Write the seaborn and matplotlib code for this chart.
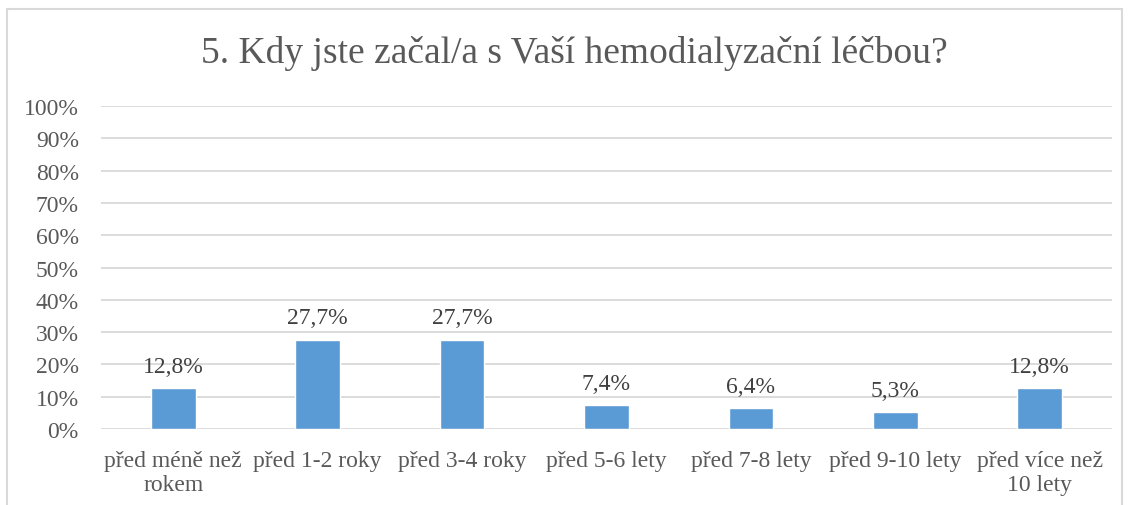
import matplotlib
matplotlib.use("Agg")
import matplotlib.pyplot as plt
import seaborn as sns
import pandas as pd
from matplotlib.patches import Rectangle

categories = ["před méně než\nrokem", "před 1-2 roky", "před 3-4 roky", "před 5-6 lety",
              "před 7-8 lety", "před 9-10 lety", "před více než\n10 lety"]
values = [12.8, 27.7, 27.7, 7.4, 6.4, 5.3, 12.8]
yticks = [0, 10, 20, 30, 40, 50, 60, 70, 80, 90, 100]
title = "5. Kdy jste začal/a s Vaší hemodialyzační léčbou?"

df = pd.DataFrame({"cat": categories, "val": values})

sns.set_style("white")
plt.rcParams["font.family"] = ["Liberation Serif", "DejaVu Serif"]
grey = "#595959"

fig = plt.figure(figsize=(11.3, 5.06), dpi=100)
ax = fig.add_axes([0.0894, 0.150, 0.8946, 0.6385])

sns.barplot(data=df, x="cat", y="val", color="#5B9BD5", saturation=1,
            width=0.31, ax=ax, zorder=3)

ax.set_ylim(0, 100)
ax.set_xlim(-0.5, len(categories) - 0.5)
ax.set_yticks(yticks)
ax.set_yticklabels([f"{t}%" for t in yticks], fontsize=17, color=grey)
ax.set_xticks(range(len(categories)))
ax.set_xticklabels(categories, fontsize=17, color=grey, linespacing=1.2)
ax.tick_params(axis="x", length=0, pad=15)
ax.tick_params(axis="y", length=0, pad=16)
ax.set_xlabel("")
ax.set_ylabel("")
ax.grid(axis="y", color="#d9d9d9", linewidth=1.3, zorder=0)
for s in ax.spines.values():
    s.set_visible(False)

labels = [f"{v:.1f}%".replace(".", ",") for v in values]
ax.bar_label(ax.containers[0], labels=labels, fontsize=17, color="#404040", padding=8)

fig.text(0.508, 0.895, title, ha="center", va="center", fontsize=27, color=grey)

fig.patches.append(Rectangle((7 / 1130, -0.05), 1115 / 1130, 1.05 - 10 / 506,
                             transform=fig.transFigure, fill=False,
                             edgecolor="#d9d9d9", linewidth=1.5))

fig.savefig("out.png", dpi=100)
